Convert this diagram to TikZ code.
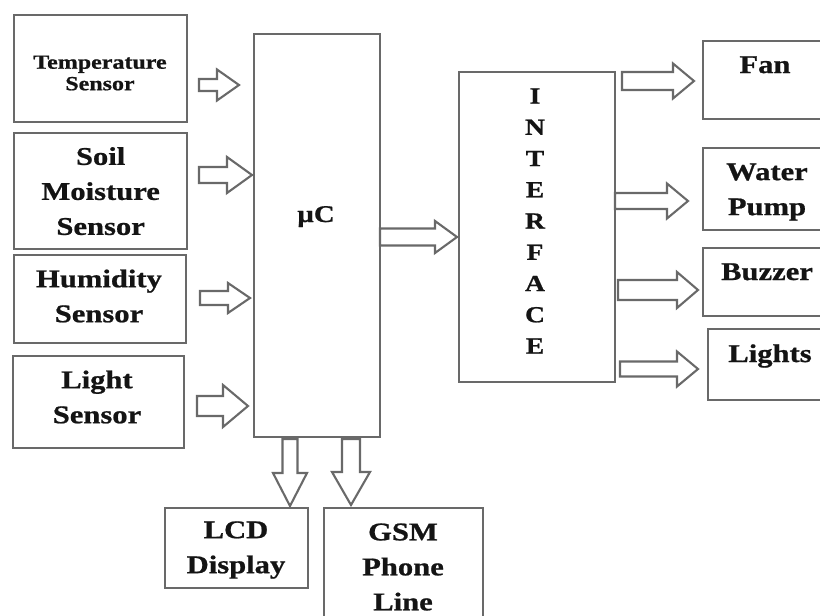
\documentclass[tikz,border=0pt]{standalone}
\usepackage{fontspec}
\usetikzlibrary{calc}
\newfontfamily\df{Liberation Serif}[FakeStretch=1.2, BoldFeatures={FakeBold=0.8}]
\definecolor{lc}{RGB}{105,105,105}
\definecolor{tc}{RGB}{20,20,20}
\newcommand\rarr[5]{\draw[barrow] let \p1=(#1), \p2=(#2) in
 (\x1,\y1+#3pt) -- (\x2-#5pt,\y1+#3pt) -- (\x2-#5pt,\y1+#4pt) -- (\x2,\y1) -- (\x2-#5pt,\y1-#4pt) -- (\x2-#5pt,\y1-#3pt) -- (\x1,\y1-#3pt) -- cycle;}
\newcommand\darr[5]{\draw[barrow] let \p1=(#1), \p2=(#2) in
 (\x1-#3pt,\y1) -- (\x1-#3pt,\y2+#5pt) -- (\x1-#4pt,\y2+#5pt) -- (\x1,\y2) -- (\x1+#4pt,\y2+#5pt) -- (\x1+#3pt,\y2+#5pt) -- (\x1+#3pt,\y1) -- cycle;}
\tikzset{
 box/.style={draw=lc, line width=2.3pt, inner sep=0pt, anchor=north west, rectangle, text=tc, align=center,
   font=\df\bfseries\fontsize{25.5}{35}\selectfont},
 lbl/.style={inner sep=0pt, text=tc, align=center, font=\df\bfseries\fontsize{25.5}{35}\selectfont},
 barrow/.style={draw=lc, line width=2.1pt, fill=white, line join=miter}
}
\begin{document}
\begin{tikzpicture}[x=1pt,y=-1pt]
\useasboundingbox[fill=white] (0,0) rectangle (820,616);
% boxes
\node[box, minimum width=173pt, minimum height=107pt] (temp) at (13,14) {};
\node[lbl, font=\df\bfseries\fontsize{20}{21.5}\selectfont] (tempt) at (100,73) {Temperature\\Sensor};
\node[box, minimum width=173pt, minimum height=116pt] (soil) at (13,132) {Soil\\Moisture\\Sensor};
\node[box, minimum width=172pt, minimum height=88pt] (hum) at (13,254) {};
\node[lbl] (humt) at (99,296) {Humidity\\Sensor};
\node[box, minimum width=171pt, minimum height=92pt] (light) at (12,355) {};
\node[lbl] (lightt) at (97,397) {Light\\Sensor};
\node[box, minimum width=126pt, minimum height=403pt] (uc) at (253,33) {};
\node[lbl, anchor=base, font=\df\bfseries\fontsize{24}{26}\selectfont] (uct) at (316,222) {µC};
\node[box, minimum width=156pt, minimum height=310pt] (iface) at (458,71) {};
\node[lbl, font=\df\bfseries\fontsize{23}{31.25}\selectfont] (ifacet) at (535,221) {I\\N\\T\\E\\R\\F\\A\\C\\E};
\node[box, minimum width=128pt, minimum height=78pt] (fan) at (702,40) {};
\node[lbl, anchor=base] (fant) at (765,73) {Fan};
\node[box, minimum width=128pt, minimum height=82pt] (water) at (702,147) {};
\node[lbl] (watert) at (767,192) {Water\\Pump};
\node[box, minimum width=128pt, minimum height=68pt] (buzz) at (702,247) {};
\node[lbl, anchor=base] (buzzt) at (767,280) {Buzzer};
\node[box, minimum width=126pt, minimum height=71pt] (lights) at (707,328) {};
\node[lbl, anchor=base] (lightst) at (770,362) {Lights};
\node[box, minimum width=143pt, minimum height=80pt] (lcd) at (164,507) {};
\node[lbl] (lcdt) at (236,550) {LCD\\Display};
\node[box, minimum width=159pt, minimum height=123pt] (gsm) at (323,507) {};
\node[lbl] (gsmt) at (403,567) {GSM\\Phone\\Line};
% arrow end points
\coordinate (a1s) at (199,85);  \coordinate (a1e) at (239,85);
\coordinate (a2s) at (199,175); \coordinate (a2e) at (252,175);
\coordinate (a3s) at (200,298); \coordinate (a3e) at (250,298);
\coordinate (a4s) at (197,406); \coordinate (a4e) at (248,406);
\coordinate (a5s) at (380,237); \coordinate (a5e) at (457,237);
\coordinate (a6s) at (622,81);  \coordinate (a6e) at (694,81);
\coordinate (a7s) at (615,201); \coordinate (a7e) at (688,201);
\coordinate (a8s) at (618,290); \coordinate (a8e) at (698,290);
\coordinate (a9s) at (620,369); \coordinate (a9e) at (698,369);
\coordinate (d1s) at (290,439); \coordinate (d1e) at (290,506);
\coordinate (d2s) at (351,439); \coordinate (d2e) at (351,505);
% arrows
\rarr{a1s}{a1e}{6}{15.5}{22}
\rarr{a2s}{a2e}{8}{18}{25}
\rarr{a3s}{a3e}{7}{15}{22}
\rarr{a4s}{a4e}{10}{21}{25}
\rarr{a5s}{a5e}{8.5}{16}{22}
\rarr{a6s}{a6e}{9}{17.5}{21}
\rarr{a7s}{a7e}{8}{17.5}{21}
\rarr{a8s}{a8e}{10}{18}{21}
\rarr{a9s}{a9e}{7.5}{17.5}{21}
\darr{d1s}{d1e}{7.5}{17}{33}
\darr{d2s}{d2e}{9}{19}{33}
\end{tikzpicture}
\end{document}
